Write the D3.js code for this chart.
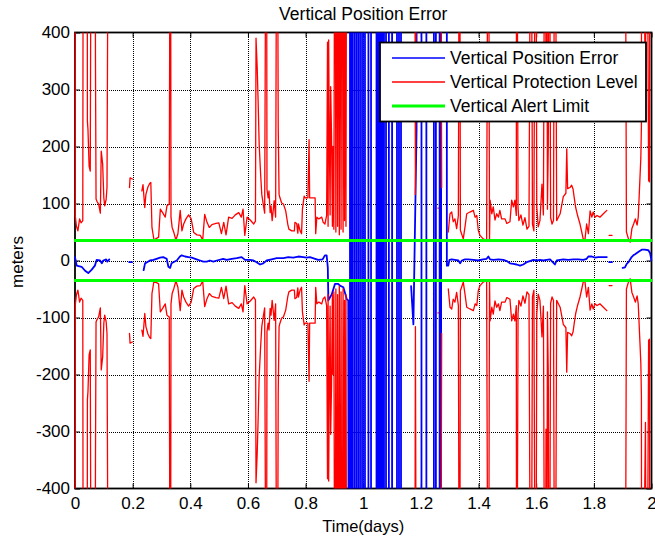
<!DOCTYPE html>
<html>
<head>
<meta charset="utf-8">
<script src="https://cdn.jsdelivr.net/npm/d3@7"></script>
<style>
  body { margin: 0; background: #fff; }
  svg text { font-family: "Liberation Sans", Arial, Helvetica, sans-serif; fill: #000; }
</style>
</head>
<body>
<svg id="chart" width="655" height="540"></svg>
<script>
// ---- tick values and labels ----
const xTicks = [0, 0.2, 0.4, 0.6, 0.8, 1, 1.2, 1.4, 1.6, 1.8, 2];
const xTickLabels = ["0", "0.2", "0.4", "0.6", "0.8", "1", "1.2", "1.4", "1.6", "1.8", "2"];
const yTicks = [-400, -300, -200, -100, 0, 100, 200, 300, 400];
const yTickLabels = ["-400", "-300", "-200", "-100", "0", "100", "200", "300", "400"];

// ---- alert limit (meters) ----
const alertLimit = 35;

// ---- vertical protection level (meters, plotted as +/-), null = data gap ----
const vplDays = [
  0, 0.001, 0.005, 0.010, 0.016, 0.021, 0.027, 0.029, 0.042, 0.043, 0.045, 0.049, 0.053, 0.057,
  0.069, 0.071, 0.073, 0.076, 0.082, 0.088, 0.091, 0.096, 0.100, 0.103, 0.108, 0.111, 0.117, 0.150,
  0.189, 0.191, 0.199, 0.210,
  0.232, 0.236, 0.242, 0.246, 0.253, 0.259, 0.263, 0.267, 0.274, 0.290, 0.296, 0.304, 0.313, 0.319,
  0.327, 0.331, 0.333, 0.337, 0.343, 0.350, 0.357, 0.365, 0.371, 0.377, 0.385, 0.394, 0.403, 0.412,
  0.423, 0.435, 0.443, 0.450, 0.458, 0.466, 0.475, 0.489, 0.499, 0.508, 0.516, 0.524, 0.533, 0.545,
  0.556, 0.568, 0.577, 0.583, 0.589, 0.597, 0.608, 0.620, 0.626, 0.628, 0.632, 0.635, 0.639, 0.644,
  0.648, 0.653, 0.658, 0.664, 0.666, 0.670, 0.673, 0.677, 0.680, 0.684, 0.691, 0.696, 0.701, 0.705,
  0.708, 0.711, 0.717, 0.723, 0.731, 0.738, 0.742, 0.752, 0.761, 0.763, 0.769, 0.773, 0.775, 0.781,
  0.786, 0.789, 0.795, 0.798, 0.808, 0.812, 0.814, 0.833, 0.835, 0.839, 0.846, 0.856, 0.861, 0.867,
  0.873, 0.876, 0.878, 0.880, 0.882, 0.885, 0.887, 0.890, 0.893, 0.895, 0.898, 0.902, 0.905, 0.908,
  0.911, 0.913, 0.917, 0.919, 0.923, 0.926, 0.930, 0.932, 0.935, 0.937, 0.940, 0.943, 0.960,
  1.178, 1.181, 1.185, 1.200,
  1.259, 1.261, 1.264,
  1.268, 1.272, 1.280,
  1.295, 1.301, 1.307, 1.312, 1.318, 1.324, 1.330, 1.334, 1.337, 1.347, 1.353, 1.359, 1.370, 1.382,
  1.388, 1.394, 1.399, 1.405, 1.416, 1.428, 1.434, 1.438, 1.440, 1.446, 1.451, 1.457, 1.463, 1.469,
  1.474, 1.480, 1.492, 1.498, 1.509, 1.515, 1.521, 1.526, 1.531, 1.532, 1.537, 1.540, 1.547, 1.554,
  1.561, 1.568, 1.575, 1.582, 1.587, 1.592, 1.598, 1.602, 1.607, 1.613, 1.620, 1.625, 1.631, 1.634,
  1.636, 1.639, 1.642, 1.645, 1.650, 1.655, 1.660, 1.665, 1.671, 1.677, 1.683, 1.694, 1.703, 1.706,
  1.709, 1.717, 1.723, 1.728, 1.732, 1.737, 1.744, 1.752, 1.758, 1.763, 1.769, 1.775, 1.781, 1.787,
  1.793, 1.798, 1.804, 1.811, 1.821, 1.833, 1.845, 1.849,
  1.853, 1.863, 1.880,
  1.908, 1.913, 1.920, 1.926, 1.932, 1.938, 1.944, 1.950, 1.954, 1.960, 1.963, 1.965, 1.966, 1.979,
  1.983, 1.990, 1.993, 1.995, 2.000
];
const vplMeters = [
  900, 78, 60, 52, 73, 66, 70, 900, 900, 244, 230, 165, 157, 900,
  900, 353, 108, 104, 99, 83, 192, 169, 110, 96, 107, 128, 900, null,
  128, 145, 143, null,
  122, 133, 93, 116, 129, 135, 137, 58, 36, 41, 90, 84, 76, 96,
  99, 900, 76, 58, 49, 36, 47, 88, 52, 64, 73, 80, 73, 49,
  45, 44, 36, 81, 67, 58, 63, 65, 66, 47, 67, 45, 76, 74,
  80, 84, 76, 90, 44, 76, 71, 64, 69, 390, 340, 285, 203, 151,
  116, 99, 83, 900, 125, 110, 122, 84, 96, 70, 105, 76, 900, 235,
  116, 110, 101, 99, 87, 64, 55, 52, 52, 67, 65, 48, 64, 52,
  47, 90, 113, 110, 110, 212, 110, 110, 47, 76, 73, 76, 67, 64,
  79, 383, 60, 387, 235, 80, 305, 218, 60, 200, 55, 900, 50, 900,
  60, 900, 45, 900, 55, 900, 50, 900, 70, 900, 60, 900, null,
  900, 116, 900, null,
  92, 92, null,
  900, 128, null,
  50, 82, 85, 68, 73, 56, 79, 900, 53, 38, 59, 82, 85, 88,
  76, 79, 53, 44, 38, 35, 900, 36, 106, 82, 94, 71, 82, 76,
  88, 73, 73, 65, 68, 106, 94, 106, 79, 900, 93, 70, 80, 62,
  75, 55, 60, 900, 64, 52, 900, 94, 59, 70, 134, 80, 900, 296,
  900, 90, 205, 900, 75, 64, 70, 900, 70, 76, 82, 112, 118, 196,
  126, 128, 132, 125, 110, 93, 78, 64, 50, 38, 36, 64, 47, 87,
  76, 85, 76, 79, 76, 82, 88, null,
  44, 44, null,
  900, 50, 38, 32, 56, 64, 73, 62, 76, 145, 180, 237, 900, 284,
  900, 140, 138, 900, 900
];

// ---- vertical position error (meters), null = data gap ----
const vpeDays = [
  0, 0.006, 0.023, 0.035, 0.046, 0.058, 0.069, 0.075, 0.087, 0.093, 0.098, 0.108, 0.112, 0.119, 0.150,
  0.188, 0.198, 0.210,
  0.238, 0.243, 0.250, 0.260, 0.272, 0.283, 0.295, 0.306, 0.318, 0.324, 0.330, 0.335, 0.341, 0.353,
  0.364, 0.370, 0.382, 0.393, 0.405, 0.422, 0.434, 0.445, 0.457, 0.468, 0.480, 0.492, 0.514, 0.526,
  0.544, 0.561, 0.578, 0.590, 0.607, 0.619, 0.630, 0.642, 0.653, 0.665, 0.682, 0.700, 0.723, 0.740,
  0.757, 0.775, 0.792, 0.804, 0.815, 0.833, 0.844, 0.859, 0.867, 0.873, 0.877, 0.879, 0.891, 0.902,
  0.913, 0.919, 0.931, 0.943, 0.948,
  0.954, 0.954, 0.959, 0.959, 0.964, 0.964, 0.971, 0.971, 0.978, 0.978, 0.985, 0.985, 0.992, 0.992,
  0.999, 0.999, 1.006, 1.006, 1.018, 1.018, 1.027, 1.027, 1.046, 1.046, 1.051, 1.051, 1.056, 1.056,
  1.062, 1.062, 1.067, 1.067, 1.072, 1.072, 1.079, 1.079, 1.089, 1.089, 1.100, 1.100, 1.117, 1.117,
  1.124, 1.124, 1.131, 1.131, 1.150,
  1.166, 1.174, 1.185, 1.185, 1.202, 1.202, 1.219, 1.219, 1.245, 1.245, 1.252, 1.252, 1.265, 1.265,
  1.270, 1.270, 1.290, 1.290,
  1.295, 1.299, 1.307, 1.318, 1.330, 1.336, 1.342, 1.353, 1.364, 1.382, 1.399, 1.416, 1.428, 1.434,
  1.440, 1.451, 1.469, 1.486, 1.498, 1.509, 1.521, 1.532, 1.544, 1.555, 1.567, 1.578, 1.590, 1.602,
  1.613, 1.625, 1.636, 1.648, 1.665, 1.671, 1.683, 1.694, 1.711, 1.729, 1.746, 1.763, 1.775, 1.781,
  1.793, 1.804, 1.815, 1.827, 1.845, 1.849,
  1.853, 1.863, 1.880,
  1.900, 1.908, 1.914, 1.920, 1.931, 1.937, 1.943, 1.954, 1.966, 1.977, 1.989, 1.995, 2.000
];
const vpeMeters = [
  6, -9, -11, -18, -22, -16, -9, 1, 0, -5, 0, 2, -2, 2, null,
  -3, -3, null,
  -17, -5, -3, 0, 1, 3, 5, 6, 3, -11, -13, -5, -3, 0,
  7, 9, 7, 6, 5, 2, 0, -2, -2, 0, -2, 0, 3, 1,
  3, 4, 6, 1, 1, 0, -3, -7, -5, 0, 2, 4, 4, 6,
  5, 7, 6, 5, 6, 3, 1, 2, 9, 9, -12, -70, -59, -41,
  -41, -44, -47, -68, -70,
  -2500, 2500, 2500, -2500, -2500, 2500, 2500, -2500, -2500, 2500, 2500, -2500, -2500, 2500,
  2500, -2500, -2500, 2500, 2500, -2500, -2500, 2500, 2500, -2500, -2500, 2500, 2500, -2500,
  -2500, 2500, 2500, -2500, -2500, 2500, 2500, -2500, -2500, 2500, 2500, -2500, -2500, 2500,
  2500, -2500, -2500, 2500, null,
  -45, -112, 230, 2500, 2500, -2500, -2500, 2500, 2500, -2500, -2500, 2500, 2500, -2500,
  -2500, 2500, 2500, -9,
  -9, 1, 2, 1, 0, -5, 0, 2, 2, 1, 0, 2, 3, 7,
  2, 1, 2, 1, -1, -5, -6, -7, -9, -7, -3, -1, 1, 0,
  1, 0, 1, 2, -7, 0, 1, 2, 1, 2, 2, 1, 3, 7,
  7, 5, 6, 6, 6, null,
  -3, -3, null,
  -13, -12, -6, -3, 6, 9, 11, 15, 19, 19, 18, 13, 0
];

// ---- layout ----
const plot = { left: 75, right: 651.5, top: 32.5, bottom: 488.5 };
const colors = { vpe: "#0000ff", vpl: "#ff0000", val: "#00ff00" };

const x = d3.scaleLinear().domain([0, 2]).range([plot.left, plot.right]);
const y = d3.scaleLinear().domain([-400, 400]).range([plot.bottom, plot.top]);

const svg = d3.select("#chart");

svg.append("defs").append("clipPath").attr("id", "plotClip")
  .append("rect")
  .attr("x", plot.left - 1).attr("y", plot.top)
  .attr("width", plot.right - plot.left + 2).attr("height", plot.bottom - plot.top);

// ---- dotted grid (snapped to the pixel grid so the dots stay crisp) ----
const snap = v => Math.round(v) + 0.5;
const grid = svg.append("g").attr("stroke", "#000").attr("stroke-width", 1)
  .attr("stroke-dasharray", "1,1").attr("shape-rendering", "crispEdges");
grid.selectAll("line.gx").data(xTicks.slice(1, -1)).join("line").attr("class", "gx")
  .attr("x1", d => snap(x(d))).attr("x2", d => snap(x(d))).attr("y1", plot.top).attr("y2", plot.bottom);
grid.selectAll("line.gy").data(yTicks.slice(1, -1)).join("line").attr("class", "gy")
  .attr("x1", plot.left).attr("x2", plot.right).attr("y1", d => snap(y(d))).attr("y2", d => snap(y(d)));

// ---- axes (ticks point inward) ----
function styleAxis(g) {
  g.attr("font-size", 17).attr("font-family", null);
  g.select(".domain").remove();
  g.selectAll(".tick line").attr("stroke", "#000");
}
svg.append("g").attr("transform", `translate(0,${plot.bottom})`)
  .call(d3.axisBottom(x).tickValues(xTicks).tickFormat((d, i) => xTickLabels[i])
    .tickSizeInner(-5).tickSizeOuter(0).tickPadding(8))
  .call(styleAxis);
svg.append("g").attr("transform", `translate(0,${plot.top})`)
  .call(d3.axisTop(x).tickValues(xTicks).tickFormat("").tickSizeInner(-5).tickSizeOuter(0))
  .call(styleAxis);
svg.append("g").attr("transform", `translate(${plot.left},0)`)
  .call(d3.axisLeft(y).tickValues(yTicks).tickFormat((d, i) => yTickLabels[i])
    .tickSizeInner(-5).tickSizeOuter(0).tickPadding(5))
  .call(styleAxis);
svg.append("g").attr("transform", `translate(${plot.right},0)`)
  .call(d3.axisRight(y).tickValues(yTicks).tickFormat("").tickSizeInner(-5).tickSizeOuter(0))
  .call(styleAxis);

// ---- axes box ----
svg.append("rect")
  .attr("x", plot.left).attr("y", plot.top)
  .attr("width", plot.right - plot.left).attr("height", plot.bottom - plot.top)
  .attr("fill", "none").attr("stroke", "#000").attr("stroke-width", 1.8);

// ---- data ----
const vpePoints = vpeDays.map((d, i) => [d, vpeMeters[i]]);
const vplPoints = vplDays.map((d, i) => [d, vplMeters[i]]);

const line = d3.line()
  .defined(d => d[1] !== null)
  .x(d => x(d[0]))
  .y(d => y(d[1]));

const data = svg.append("g").attr("clip-path", "url(#plotClip)")
  .attr("fill", "none").attr("stroke-linejoin", "round").attr("stroke-linecap", "round");

data.append("path").datum(vpePoints)
  .attr("d", line).attr("stroke", colors.vpe).attr("stroke-width", 1.8);

data.append("path").datum(vplPoints)
  .attr("d", line).attr("stroke", colors.vpl).attr("stroke-width", 1.3);
data.append("path").datum(vplPoints.map(p => [p[0], p[1] === null ? null : -p[1]]))
  .attr("d", line).attr("stroke", colors.vpl).attr("stroke-width", 1.3);

[alertLimit, -alertLimit].forEach(v => {
  data.append("line")
    .attr("x1", x(0)).attr("x2", x(2)).attr("y1", y(v)).attr("y2", y(v))
    .attr("stroke", colors.val).attr("stroke-width", 3);
});

// ---- title and axis labels ----
svg.append("text").attr("x", (plot.left + plot.right) / 2).attr("y", 19.5)
  .attr("text-anchor", "middle").attr("font-size", 17.5).text("Vertical Position Error");
svg.append("text").attr("x", (plot.left + plot.right) / 2).attr("y", 532)
  .attr("text-anchor", "middle").attr("font-size", 16.5).text("Time(days)");
svg.append("text").attr("transform", "translate(23,262) rotate(-90)")
  .attr("text-anchor", "middle").attr("font-size", 17).text("meters");

// ---- legend ----
const legendItems = [
  { label: "Vertical Position Error", color: colors.vpe, width: 1.5 },
  { label: "Vertical Protection Level", color: colors.vpl, width: 1.3 },
  { label: "Vertical Alert Limit", color: colors.val, width: 3 }
];
const legend = svg.append("g");
legend.append("rect")
  .attr("x", 380).attr("y", 42.5).attr("width", 266).attr("height", 79)
  .attr("fill", "#fff").attr("stroke", "#000").attr("stroke-width", 1.8);
const rows = legend.selectAll("g.row").data(legendItems).join("g")
  .attr("transform", (d, i) => `translate(0,${58 + i * 24})`);
rows.append("line").attr("x1", 392).attr("x2", 445).attr("y1", 0).attr("y2", 0)
  .attr("stroke", d => d.color).attr("stroke-width", d => d.width);
rows.append("text").attr("x", 450).attr("y", 6).attr("font-size", 17.5).text(d => d.label);
</script>
</body>
</html>
